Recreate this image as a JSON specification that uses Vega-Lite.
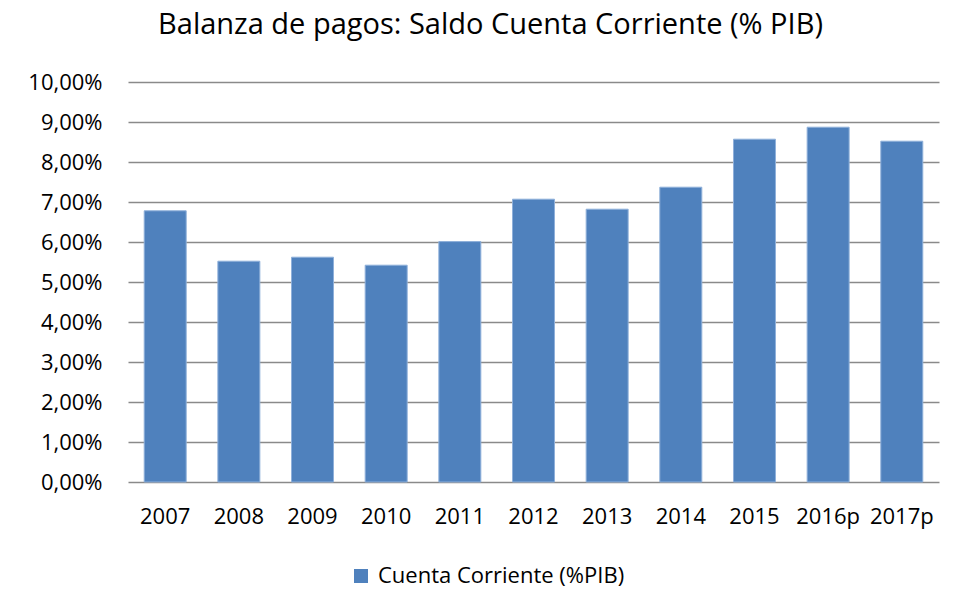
{
  "$schema": "https://vega.github.io/schema/vega-lite/v6.json",
  "autosize": "none",
  "width": 811,
  "height": 400,
  "padding": {"left": 128, "top": 82, "right": 18, "bottom": 128},
  "background": "white",
  "title": {
    "text": "Balanza de pagos: Saldo Cuenta Corriente (% PIB)",
    "font": "Open Sans",
    "fontSize": 29,
    "fontWeight": "normal",
    "color": "#000000",
    "anchor": "middle",
    "dx": -43,
    "offset": 31
  },
  "data": {
    "values": [
      {"anio": "2007", "valor": 6.78},
      {"anio": "2008", "valor": 5.52},
      {"anio": "2009", "valor": 5.62},
      {"anio": "2010", "valor": 5.42},
      {"anio": "2011", "valor": 6.01},
      {"anio": "2012", "valor": 7.07},
      {"anio": "2013", "valor": 6.82},
      {"anio": "2014", "valor": 7.37},
      {"anio": "2015", "valor": 8.57},
      {"anio": "2016p", "valor": 8.87},
      {"anio": "2017p", "valor": 8.52}
    ]
  },
  "mark": {"type": "bar", "stroke": "#8fb0da", "strokeWidth": 1},
  "encoding": {
    "x": {
      "field": "anio",
      "type": "nominal",
      "sort": null,
      "scale": {"paddingInner": 0.43, "paddingOuter": 0.22},
      "axis": {
        "title": null,
        "labelAngle": 0,
        "domain": false,
        "ticks": false,
        "labelPadding": 24,
        "labelFont": "Open Sans",
        "labelFontSize": 22,
        "labelColor": "#000000"
      }
    },
    "y": {
      "field": "valor",
      "type": "quantitative",
      "scale": {"domain": [0, 10], "nice": false},
      "axis": {
        "title": null,
        "values": [0, 1, 2, 3, 4, 5, 6, 7, 8, 9, 10],
        "labelExpr": "replace(format(datum.value, '.2f'), '.', ',') + '%'",
        "domain": false,
        "ticks": false,
        "labelPadding": 26,
        "labelFont": "Open Sans",
        "labelFontSize": 22,
        "labelColor": "#000000",
        "grid": true,
        "gridColor": "#8a8a8a",
        "gridWidth": 1.5
      }
    },
    "color": {
      "datum": "Cuenta Corriente (%PIB)",
      "type": "nominal",
      "scale": {"range": ["#4f81bd"]},
      "legend": {
        "title": null,
        "orient": "none",
        "legendX": 222,
        "legendY": 483,
        "symbolType": "square",
        "symbolSize": 196,
        "symbolStrokeWidth": 0,
        "labelFont": "Open Sans",
        "labelFontSize": 22,
        "labelColor": "#000000",
        "labelOffset": 6,
        "labelLimit": 0
      }
    }
  },
  "config": {"view": {"stroke": null}}
}
